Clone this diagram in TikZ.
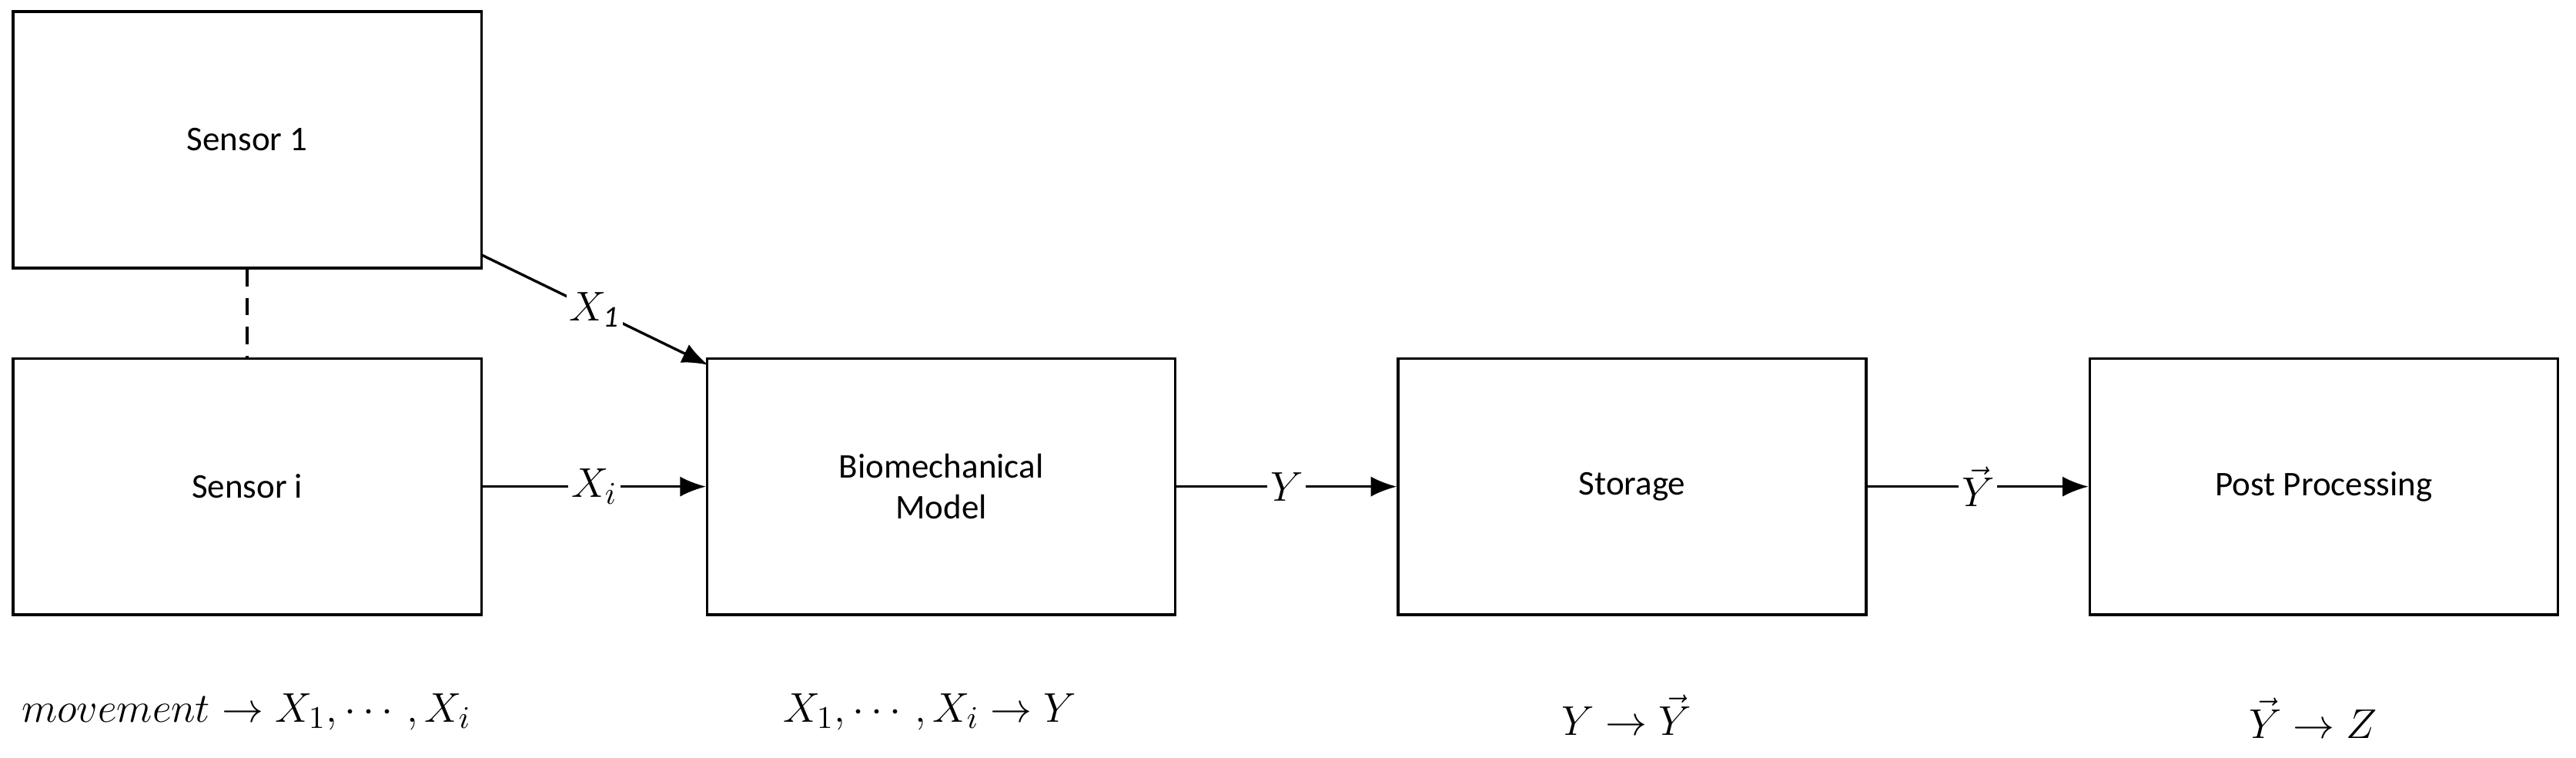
\documentclass[tikz,border=0pt]{standalone}
\usepackage{fontspec}
\setmainfont{Carlito}
\usepackage{amsmath}
\usetikzlibrary{arrows.meta}
\begin{document}
\begin{tikzpicture}[x=0.02cm,y=-0.02cm,
  box/.style={draw,line width=0.9pt,minimum width=5.7cm,minimum height=3.12cm,align=center,font=\fontsize{12}{14}\selectfont},
  arr/.style={line width=0.9pt,-{Latex[length=9pt,width=7pt]}},
  lab/.style={fill=white,inner sep=1pt,font=\fontsize{15}{17}\selectfont},
  eq/.style={font=\fontsize{15}{17}\selectfont}]
\useasboundingbox (0,0) rectangle (1568,461);
\node[box] (s1) at (150.5,85) {Sensor 1};
\node[box] (si) at (150.5,296) {Sensor i};
\node[box] (bm) at (573,296) {Biomechanical\\Model};
\node[box] (st) at (993.5,296) {Storage};
\node[box] (pp) at (1414.5,296) {Post Processing};
\draw[line width=0.9pt,dash pattern=on 6pt off 4pt] (s1.south) -- (si.north);
\coordinate (a1) at (293,155);
\coordinate (b1) at (431,222);
\draw[arr] (a1) -- node[lab,pos=0.5]{$X_{\mathit{1}}$} (b1);
\draw[arr] (si.east) -- node[lab]{$X_i$} (bm.west);
\draw[arr] (bm.east) -- node[lab]{$Y$} (st.west);
\draw[arr] (st.east) -- node[lab]{$\vec{Y}$} (pp.west);
\node[eq] (e1) at (150,433) {$movement\rightarrow X_1,\cdots,X_i$};
\node[eq] (e2) at (566,433) {$X_1,\cdots,X_i\rightarrow Y$};
\node[eq] (e3) at (990,435) {$Y\rightarrow\vec{Y}$};
\node[eq] (e4) at (1408,437) {$\vec{Y}\rightarrow Z$};
\end{tikzpicture}
\end{document}
